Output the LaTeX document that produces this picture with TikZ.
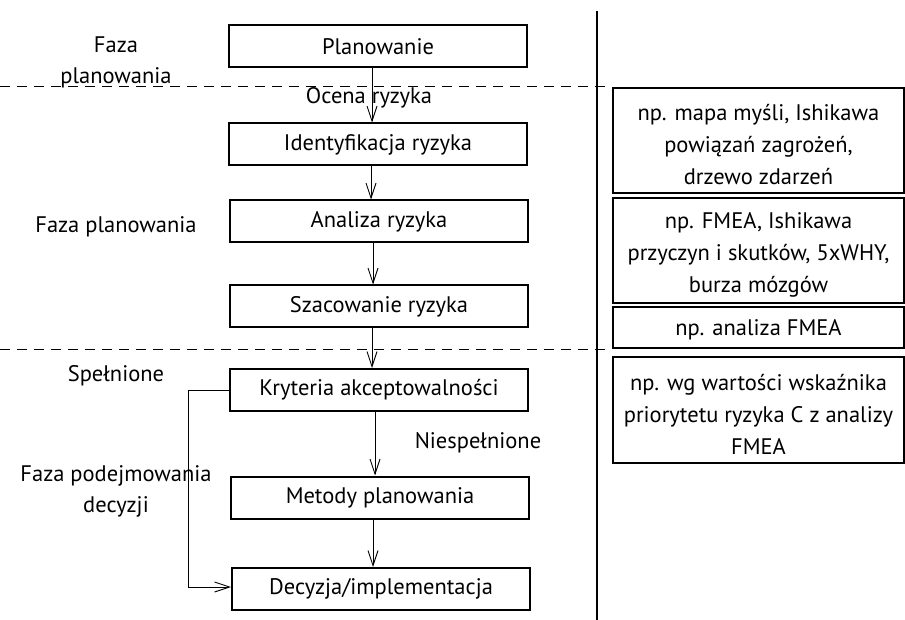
\documentclass[tikz,border=0pt]{standalone}
\usepackage{fontspec}
\setmainfont{PT Sans}
\usetikzlibrary{arrows.meta}
\begin{document}
\begin{tikzpicture}[x=1pt,y=-1pt,
  every node/.style={font=\fontsize{22.5}{31}\selectfont, inner sep=0pt},
  lbox/.style={draw, line width=2pt, minimum width=298pt, minimum height=42pt},
  rbox/.style={draw, line width=2pt, minimum width=291pt},
  rtext/.style={align=center, font=\fontsize{22.5}{32}\selectfont},
  lbl/.style={align=center},
  arr/.style={line width=0.9pt, -{Straight Barb[length=15pt,width=10pt,line width=0.9pt]}},
  sep/.style={line width=1pt, dash pattern=on 10pt off 7pt}
]
\useasboundingbox (0,0) rectangle (905,620);
% left column boxes
\node[lbox] (plan) at (378,46.5) {Planowanie};
\node[lbox] (ident) at (378,144.5) {Identyfikacja ryzyka};
\node[lbox] (anal) at (379,221.5) {Analiza ryzyka};
\node[lbox] (szac) at (379,306.5) {Szacowanie ryzyka};
\node[lbox] (kry) at (379,390) {Kryteria akceptowalności};
\node[lbox] (met) at (380,497.5) {Metody planowania};
\node[lbox] (dec) at (381,589) {Decyzja/implementacja};
% separators
\coordinate (s1a) at (0,87); \coordinate (s1b) at (612,87);
\coordinate (s2a) at (0,349); \coordinate (s2b) at (612,349);
\draw[sep] (s1a) -- (s1b);
\draw[sep] (s2a) -- (s2b);
\coordinate (vtop) at (597,11); \coordinate (vbot) at (597,620);
\draw[line width=2pt] (vtop) -- (vbot);
% left labels
\node[lbl] (l1) at (116,62) {Faza\\planowania};
\node[lbl] (oc) at (369,98) {Ocena ryzyka};
\node[lbl] (l2) at (116,227) {Faza planowania};
\node[lbl] (sp) at (116,376) {Spełnione};
\node[lbl] (l3) at (116,491.5) {Faza podejmowania\\decyzji};
\node[lbl] (nie) at (478,443) {Niespełnione};
% arrows
\draw[arr] (plan.south) ++(-6,0) coordinate (a1) -- (a1 |- ident.north);
\draw[arr] (ident.south) ++(-7,0) coordinate (a2) -- (a2 |- anal.north);
\draw[arr] (anal.south) ++(-6,0) coordinate (a3) -- (a3 |- szac.north);
\draw[arr] (szac.south) ++(-7,0) coordinate (a4) -- (a4 |- kry.north);
\draw[arr] (kry.south) ++(-4,0) coordinate (a5) -- (a5 |- met.north);
\draw[arr] (met.south) ++(-7,0) coordinate (a6) -- (a6 |- dec.north);
\coordinate (fbx) at (188,587);
\draw[line width=0.9pt] (kry.west) -- (kry.west -| fbx) -- (fbx);
\draw[arr] (fbx) -- (fbx -| dec.west);
% right boxes
\node[rbox, minimum height=105pt] (r1) at (758.5,140.5) {};
\node[rtext] (r1t) at (758.5,145) {np. mapa myśli, Ishikawa\\powiązań zagrożeń,\\drzewo zdarzeń};
\node[rbox, minimum height=105pt] (r2) at (758.5,250.5) {};
\node[rtext] (r2t) at (758.5,255) {np. FMEA, Ishikawa\\przyczyn i skutków, 5xWHY,\\burza mózgów};
\node[rbox, minimum height=41pt] (r3) at (758.5,327.5) {};
\node[rtext] (r3t) at (758.5,329.5) {np. analiza FMEA};
\node[rbox, minimum height=106pt] (r4) at (758.5,410) {};
\node[rtext] (r4t) at (758.5,414) {np. wg wartości wskaźnika\\priorytetu ryzyka C z analizy\\FMEA};
\end{tikzpicture}
\end{document}
